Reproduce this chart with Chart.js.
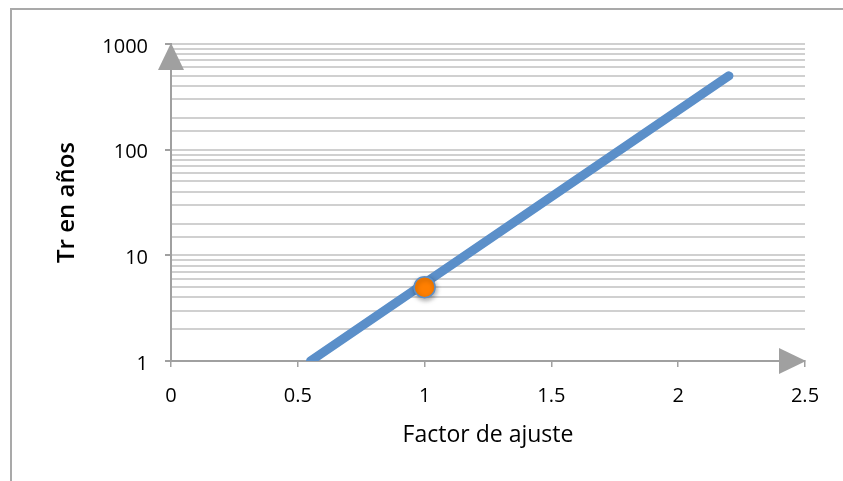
<!DOCTYPE html>
<html>
<head>
<meta charset="utf-8">
<script src="https://cdn.jsdelivr.net/npm/chart.js@4/dist/chart.umd.min.js"></script>
<style>
  html, body { margin: 0; padding: 0; background: #ffffff; overflow: hidden; }
  #frame { position: absolute; left: 10px; top: 8px; width: 900px; height: 600px; border: 2px solid #a9a9a9; box-sizing: border-box; }
  #wrap { position: absolute; left: 0; top: 0; width: 843px; height: 481px; }
</style>
</head>
<body>
<div id="frame"></div>
<div id="wrap"><canvas id="c" width="843" height="481"></canvas></div>
<script>
// Data
const lineX = [0.55, 2.2];
const lineY = [1, 500];
const pointX = [1];
const pointY = [5];
const yMajorTicks = [1, 10, 100, 1000];
const xTickValues = [0, 0.5, 1, 1.5, 2, 2.5];
const xTitle = 'Factor de ajuste';
const yTitle = 'Tr en años';

const AXIS = '#a0a0a0';
const GRID = '#d0d0d0';
const FONT = '"Open Sans", Lato, sans-serif';

const arrows = {
  id: 'arrows',
  afterDatasetsDraw(chart) {
    const {ctx, scales: {x, y}} = chart;
    ctx.save();
    ctx.fillStyle = AXIS;
    const yx = x.getPixelForValue(0), yt = y.getPixelForValue(1000);
    ctx.beginPath();
    ctx.moveTo(yx, yt - 1);
    ctx.lineTo(yx - 13, yt + 26);
    ctx.lineTo(yx + 13, yt + 26);
    ctx.closePath();
    ctx.fill();
    const xr = x.getPixelForValue(2.5), xy = y.getPixelForValue(1);
    ctx.beginPath();
    ctx.moveTo(xr + 1, xy);
    ctx.lineTo(xr - 26, xy - 13);
    ctx.lineTo(xr - 26, xy + 13);
    ctx.closePath();
    ctx.fill();
    ctx.restore();
  }
};

const pointShadow = {
  id: 'pointShadow',
  beforeDatasetDraw(chart, args) {
    if (args.index === 1) {
      const ctx = chart.ctx;
      ctx.save();
      ctx.shadowColor = 'rgba(0,0,0,0.35)';
      ctx.shadowBlur = 5;
      ctx.shadowOffsetX = 1;
      ctx.shadowOffsetY = 2;
    }
  },
  afterDatasetDraw(chart, args) {
    if (args.index === 1) chart.ctx.restore();
  }
};

new Chart(document.getElementById('c'), {
  type: 'scatter',
  data: {
    datasets: [
      {
        data: lineX.map((v, i) => ({x: v, y: lineY[i]})),
        showLine: true,
        borderColor: '#5b8fc9',
        borderWidth: 9,
        borderCapStyle: 'round',
        pointRadius: 0,
        pointHoverRadius: 0,
        order: 2
      },
      {
        data: pointX.map((v, i) => ({x: v, y: pointY[i]})),
        backgroundColor: '#ff7f00',
        borderColor: '#5b8fc9',
        borderWidth: 1.5,
        pointRadius: 10.5,
        order: 1
      }
    ]
  },
  options: {
    responsive: false,
    animation: false,
    events: [],
    layout: { padding: { left: 0, top: 44, right: 38, bottom: 0 } },
    plugins: { legend: { display: false }, tooltip: { enabled: false } },
    scales: {
      x: {
        type: 'linear',
        min: 0, max: 2.5,
        afterBuildTicks: (s) => { s.ticks = xTickValues.map(v => ({value: v})); },
        afterFit: (s) => { s.height = 120; },
        grid: { drawOnChartArea: false, drawTicks: true, tickLength: 6, tickColor: AXIS, lineWidth: 1.5 },
        border: { color: AXIS, width: 2 },
        ticks: { color: '#000', font: { family: FONT, size: 20 }, padding: 17, callback: (v) => String(v) },
        title: { display: true, text: xTitle, color: '#000', font: { family: FONT, size: 23 }, padding: { top: 0, bottom: 32 } }
      },
      y: {
        type: 'logarithmic',
        min: 1, max: 1000,
        afterFit: (s) => { s.width = 171; },
        grid: {
          color: (c) => (c.tick && c.tick.value === 1) ? 'rgba(0,0,0,0)' : GRID,
          lineWidth: 2,
          tickLength: 6,
          tickColor: (c) => (c.tick && yMajorTicks.includes(c.tick.value)) ? AXIS : 'rgba(0,0,0,0)'
        },
        border: { color: AXIS, width: 2 },
        ticks: {
          color: '#000', font: { family: FONT, size: 20 }, padding: 17, autoSkip: false, labelOffset: 3,
          callback: (v) => yMajorTicks.includes(v) ? String(v) : ''
        },
        title: { display: true, text: yTitle, color: '#000', font: { family: FONT, size: 24, weight: '600' }, padding: { top: 53, bottom: 0 } }
      }
    }
  },
  plugins: [arrows, pointShadow]
});
</script>
</body>
</html>
